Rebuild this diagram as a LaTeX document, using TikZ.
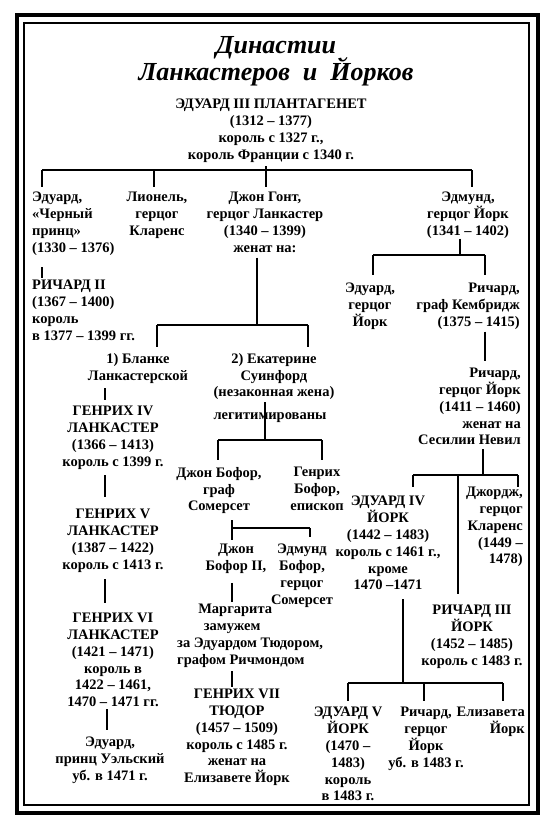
\documentclass[tikz,border=0pt]{standalone}
\usepackage{fontspec}
\setmainfont{Liberation Serif}
\begin{document}
\begin{tikzpicture}[x=1pt,y=-1pt,
  tx/.style={font=\bfseries\fontsize{14.5}{16.8}\selectfont, inner sep=0pt, align=center, anchor=north},
  txl/.style={tx, align=left, anchor=north west},
  txr/.style={tx, align=right, anchor=north east},
  ttl/.style={font=\bfseries\itshape\fontsize{26}{30}\selectfont, inner sep=0pt, anchor=base},
  ln/.style={line width=1.8pt},
  frameout/.style={line width=4pt},
  framein/.style={line width=1.5pt}]
\useasboundingbox (0,0) rectangle (550,831);
\draw[frameout] (17,15) rectangle (538,813);
\draw[framein] (24,23) rectangle (529,805);

\node[ttl] (t1) at (276,53) {Династии};
\node[ttl] (t2) at (276,80) {Ланкастеров\enspace и\enspace Йорков};

\node[tx] (e3) at (271,99) {ЭДУАРД III ПЛАНТАГЕНЕТ\\(1312 – 1377)\\король с 1327 г.,\\король Франции с 1340 г.};

\node[txl] (ebp) at (32,192) {Эдуард,\\«Черный\\принц»\\(1330 – 1376)};
\node[tx] (lio) at (157,192) {Лионель,\\герцог\\Кларенс};
\node[tx] (gau) at (265,192) {Джон Гонт,\\герцог Ланкастер\\(1340 – 1399)\\женат на:};
\node[tx] (edm) at (468,192) {Эдмунд,\\герцог Йорк\\(1341 – 1402)};

\node[txl] (r2) at (32,280) {РИЧАРД II\\(1367 – 1400)\\король\\в 1377 – 1399 гг.};

\node[tx] (edy) at (370,283) {Эдуард,\\герцог\\Йорк};
\node[txr] (rca) at (520,283) {Ричард,\\граф Кембридж\\(1375 – 1415)};
\node[txr] (rdy) at (521,368) {Ричард,\\герцог Йорк\\(1411 – 1460)\\женат на\\Сесилии Невил};
\node[tx] (e4) at (388,496) {ЭДУАРД IV\\ЙОРК\\(1442 – 1483)\\король с 1461 г.,\\кроме\\1470 –1471};
\node[txr] (geo) at (523,487) {Джордж,\\герцог\\Кларенс\\(1449 –\\1478)};
\node[tx] (r3) at (472,605) {РИЧАРД III\\ЙОРК\\(1452 – 1485)\\король с 1483 г.};
\node[tx] (e5) at (348,707) {ЭДУАРД V\\ЙОРК\\(1470 –\\1483)\\король\\в 1483 г.};
\node[tx] (ryo) at (426,707) {Ричард,\\герцог\\Йорк\\уб. в 1483 г.};
\node[txr] (eli) at (525,707) {Елизавета\\Йорк};

\node[tx] (bla) at (138,353) {1) Бланке\\Ланкастерской};
\node[tx] (cat) at (274,353) {2) Екатерине\\Суинфорд\\(незаконная жена)};
\node[tx] (h4) at (113,406) {ГЕНРИХ IV\\ЛАНКАСТЕР\\(1366 – 1413)\\король с 1399 г.};
\node[tx] (h5) at (113,509) {ГЕНРИХ V\\ЛАНКАСТЕР\\(1387 – 1422)\\король с 1413 г.};
\node[tx] (h6) at (113,613) {ГЕНРИХ VI\\ЛАНКАСТЕР\\(1421 – 1471)\\король в\\1422 – 1461,\\1470 – 1471 гг.};
\node[tx] (epw) at (110,737) {Эдуард,\\принц Уэльский\\уб. в 1471 г.};

\node[tx] (jb) at (219,467) {Джон Бофор,\\граф\\Сомерсет};
\node[tx] (hb) at (317,467) {Генрих\\Бофор,\\епископ};
\node[tx] (jb2) at (236,544) {Джон\\Бофор II,};
\node[tx] (edb) at (302,544) {Эдмунд\\Бофор,\\герцог\\Сомерсет};
\node[txl] (mar) at (177,604) {\makebox[116pt][c]{Маргарита}\\\makebox[110pt][c]{замужем}\\за Эдуардом Тюдором,\\графом Ричмондом};
\node[tx] (h7) at (237,689) {ГЕНРИХ VII\\ТЮДОР\\(1457 – 1509)\\король с 1485 г.\\женат на\\Елизавете Йорк};

% bus 1
\coordinate (b1a) at (42,170);
\coordinate (b1b) at (154,170);
\coordinate (b1c) at (266,170);
\coordinate (b1d) at (472,170);
\draw[ln] (b1a) -- (b1d);
\draw[ln, shorten <=4pt] (b1c |- e3.south) -- (b1c);
\draw[ln, shorten >=5pt] (b1a) -- (b1a |- ebp.north);
\draw[ln, shorten >=5pt] (b1b) -- (b1b |- lio.north);
\draw[ln, shorten >=5pt] (b1c) -- (b1c |- gau.north);
\draw[ln, shorten >=5pt] (b1d) -- (b1d |- edm.north);
\draw[ln, shorten <=12pt, shorten >=2pt] (b1a |- ebp.south) -- (b1a |- r2.north);

% bus 2 (Edmund)
\coordinate (b2) at (460,255);
\coordinate (b2a) at (373,255);
\coordinate (b2b) at (485,255);
\draw[ln] (b2 |- edm.south) -- (b2);
\draw[ln] (b2a) -- (b2b);
\draw[ln, shorten >=8pt] (b2a) -- (b2a |- edy.north);
\draw[ln, shorten >=8pt] (b2b) -- (b2b |- rca.north);
\draw[ln, shorten <=2pt, shorten >=7pt] (b2b |- rca.south) -- (b2b |- rdy.north);

% bus 3 (Richard of York)
\coordinate (b3) at (483,475);
\coordinate (b3a) at (413,475);
\coordinate (b3m) at (458,475);
\coordinate (b3b) at (518,475);
\draw[ln, shorten <=4pt] (b3 |- rdy.south) -- (b3);
\draw[ln] (b3a) -- (b3b);
\draw[ln, shorten >=9pt] (b3a) -- (b3a |- e4.north);
\draw[ln] (b3b) -- (b3b |- geo.north);
\draw[ln, shorten >=11pt] (b3m) -- (b3m |- r3.north);

% bus 4 (Edward IV)
\coordinate (b4) at (403,683);
\coordinate (b4a) at (348,683);
\coordinate (b4b) at (424,683);
\coordinate (b4c) at (503,683);
\draw[ln, shorten <=9pt] (b4 |- e4.south) -- (b4);
\draw[ln] (b4a) -- (b4c);
\draw[ln, shorten >=6pt] (b4a) -- (b4a |- e5.north);
\draw[ln, shorten >=6pt] (b4b) -- (b4b |- ryo.north);
\draw[ln, shorten >=6pt] (b4c) -- (b4c |- eli.north);

% bus 5 (John of Gaunt)
\coordinate (b5) at (257,325);
\coordinate (b5a) at (157,325);
\coordinate (b5b) at (308,325);
\draw[ln, shorten <=5pt] (b5 |- gau.south) -- (b5);
\draw[ln] (b5a) -- (b5b);
\draw[ln, shorten >=6pt] (b5a) -- (b5a |- bla.north);
\draw[ln, shorten >=6pt] (b5b) -- (b5b |- cat.north);

% Lancaster line
\coordinate (x105) at (105,0);
\coordinate (x107) at (107,0);
\draw[ln, shorten <=5pt, shorten >=6pt] (x105 |- bla.south) -- (x105 |- h4.north);
\draw[ln, shorten <=6pt, shorten >=12pt] (x105 |- h4.south) -- (x105 |- h5.north);
\draw[ln, shorten <=7pt, shorten >=10pt] (x105 |- h5.south) -- (x105 |- h6.north);
\draw[ln, shorten <=2pt, shorten >=7pt] (x107 |- h6.south) -- (x107 |- epw.north);

% bus 6 (Catherine)
\coordinate (b6) at (265,440);
\coordinate (b6a) at (218,440);
\coordinate (b6b) at (322,440);
\draw[ln, shorten <=2pt] (b6 |- cat.south) -- (b6);
\node[tx, anchor=center] (leg) at (270,418) {легитимированы};
\draw[ln] (b6a) -- (b6b);
\draw[ln, shorten >=7pt] (b6a) -- (b6a |- jb.north);
\draw[ln, shorten >=7pt] (b6b) -- (b6b |- hb.north);

% bus 7 (John Beaufort)
\coordinate (b7) at (232,528);
\coordinate (b7b) at (310,528);
\draw[ln, shorten <=6pt, shorten >=4pt] (b7 |- jb.south) -- (b7 |- jb2.north);
\draw[ln] (b7) -- (b7b);
\draw[ln, shorten >=7pt] (b7b) -- (b7b |- edb.north);
\draw[ln, shorten <=9pt, shorten >=2pt] (b7 |- jb2.south) -- (b7 |- mar.north);
\draw[ln, shorten <=4pt, shorten >=2pt] (b7 |- mar.south) -- (b7 |- h7.north);
\end{tikzpicture}
\end{document}
